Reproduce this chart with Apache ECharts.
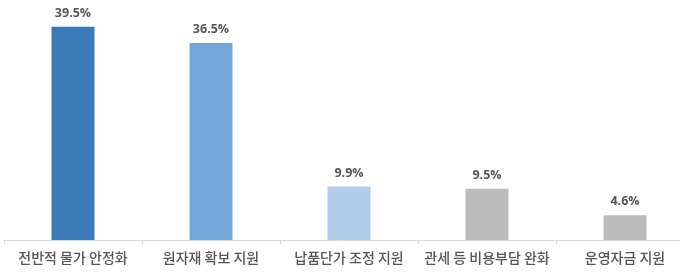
<!DOCTYPE html>
<html><head><meta charset="utf-8">
<script src="https://cdn.jsdelivr.net/npm/echarts@6/dist/echarts.min.js"></script>
<style>html,body{margin:0;padding:0;background:#fff}#c{width:680px;height:275px}</style>
</head><body><div id="c"></div>
<script>
const categories = ['전반적 물가 안정화', '원자재 확보 지원', '납품단가 조정 지원', '관세 등 비용부담 완화', '운영자금 지원'];
const values = [39.5, 36.5, 9.9, 9.5, 4.6];
const barColors = ['#3a7ab9', '#72a7d8', '#b1cde9', '#bcbcbc', '#bcbcbc'];

const chart = echarts.init(document.getElementById('c'), null, {renderer: 'canvas'});
chart.setOption({
  animation: false,
  grid: {left: 4, width: 690, top: 0, bottom: 35, containLabel: false, outerBoundsMode: 'none'},
  xAxis: {
    type: 'category',
    data: categories,
    axisLine: {lineStyle: {color: '#d9d9d9', width: 1}},
    axisTick: {show: true, length: 4, lineStyle: {color: '#d9d9d9'}},
    axisLabel: {
      color: '#555555', fontSize: 14, fontWeight: 500, margin: 11,
      fontFamily: '"Noto Sans CJK KR", sans-serif', interval: 0
    }
  },
  yAxis: {
    type: 'value', min: 0, max: 44.44,
    show: false, splitLine: {show: false}
  },
  series: [{
    type: 'bar',
    barWidth: 43,
    data: values.map((v, i) => ({value: v, itemStyle: {color: barColors[i]}})),
    label: {
      show: true, position: 'top', distance: 7,
      formatter: p => p.value.toFixed(1) + '%',
      color: '#555555', fontSize: 12.5, fontWeight: 'bold',
      fontFamily: '"Open Sans", "Noto Sans", sans-serif'
    }
  }]
});
</script>
</body></html>
